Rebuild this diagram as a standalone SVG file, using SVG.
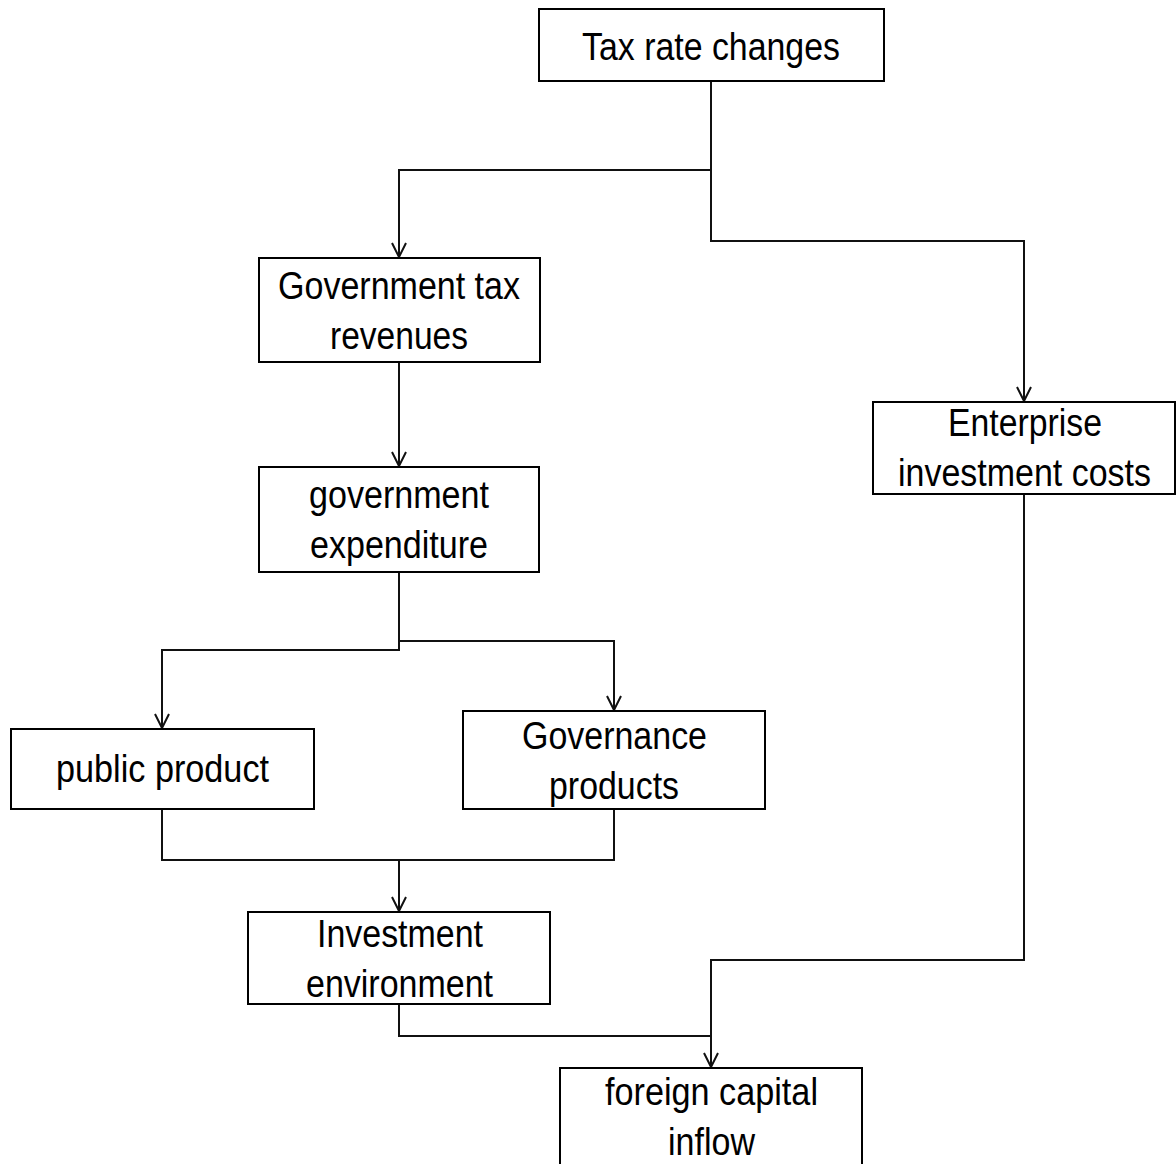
<svg xmlns="http://www.w3.org/2000/svg" width="1176" height="1164" viewBox="0 0 1176 1164">
<defs>
<style>
.box{fill:#fff;stroke:#000;stroke-width:2}
.lbl{font-family:"Liberation Sans",Arial,sans-serif;font-size:38px;fill:#000;text-anchor:start}
.con{fill:none;stroke:#111;stroke-width:2}
</style>
<marker id="arr" markerUnits="userSpaceOnUse" markerWidth="20" markerHeight="20" viewBox="-16 -10 20 20" refX="0" refY="0" orient="auto">
<path d="M-14,-7 L0,0 L-14,7" fill="none" stroke="#111" stroke-width="2"/>
</marker>
</defs>
<rect width="1176" height="1164" fill="#fff"/>
<g id="connectors">
<path class="con" d="M711,81 V241 H1024 V401" marker-end="url(#arr)"/>
<path class="con" d="M711,170 H399 V257" marker-end="url(#arr)"/>
<path class="con" d="M399,362 V466" marker-end="url(#arr)"/>
<path class="con" d="M399,572 V650 H162 V728" marker-end="url(#arr)"/>
<path class="con" d="M399,641 H614 V710" marker-end="url(#arr)"/>
<path class="con" d="M162,809 V860 H614 V809"/>
<path class="con" d="M399,860 V911" marker-end="url(#arr)"/>
<path class="con" d="M1024,494 V960 H711 V1067" marker-end="url(#arr)"/>
<path class="con" d="M399,1004 V1036 H711"/>
</g>
<g id="n-tax">
<rect class="box" x="539" y="9" width="345" height="72"/>
<text class="lbl" x="582" y="60" textLength="258" lengthAdjust="spacingAndGlyphs">Tax rate changes</text>
</g>
<g id="n-revenues">
<rect class="box" x="259" y="258" width="281" height="104"/>
<text class="lbl" x="278" y="299" textLength="242" lengthAdjust="spacingAndGlyphs">Government tax</text>
<text class="lbl" x="330" y="349" textLength="138" lengthAdjust="spacingAndGlyphs">revenues</text>
</g>
<g id="n-expenditure">
<rect class="box" x="259" y="467" width="280" height="105"/>
<text class="lbl" x="309" y="508" textLength="180" lengthAdjust="spacingAndGlyphs">government</text>
<text class="lbl" x="310" y="558" textLength="178" lengthAdjust="spacingAndGlyphs">expenditure</text>
</g>
<g id="n-enterprise">
<rect class="box" x="873" y="402" width="302" height="92"/>
<text class="lbl" x="948" y="436" textLength="154" lengthAdjust="spacingAndGlyphs">Enterprise</text>
<text class="lbl" x="898" y="486" textLength="253" lengthAdjust="spacingAndGlyphs">investment costs</text>
</g>
<g id="n-public">
<rect class="box" x="11" y="729" width="303" height="80"/>
<text class="lbl" x="56" y="782" textLength="213" lengthAdjust="spacingAndGlyphs">public product</text>
</g>
<g id="n-governance">
<rect class="box" x="463" y="711" width="302" height="98"/>
<text class="lbl" x="522" y="749" textLength="185" lengthAdjust="spacingAndGlyphs">Governance</text>
<text class="lbl" x="549" y="799" textLength="130" lengthAdjust="spacingAndGlyphs">products</text>
</g>
<g id="n-investment">
<rect class="box" x="248" y="912" width="302" height="92"/>
<text class="lbl" x="317" y="947" textLength="166" lengthAdjust="spacingAndGlyphs">Investment</text>
<text class="lbl" x="306" y="997" textLength="187" lengthAdjust="spacingAndGlyphs">environment</text>
</g>
<g id="n-foreign">
<rect class="box" x="560" y="1068" width="302" height="110"/>
<text class="lbl" x="605" y="1105" textLength="213" lengthAdjust="spacingAndGlyphs">foreign capital</text>
<text class="lbl" x="668" y="1155" textLength="87" lengthAdjust="spacingAndGlyphs">inflow</text>
</g>
</svg>
